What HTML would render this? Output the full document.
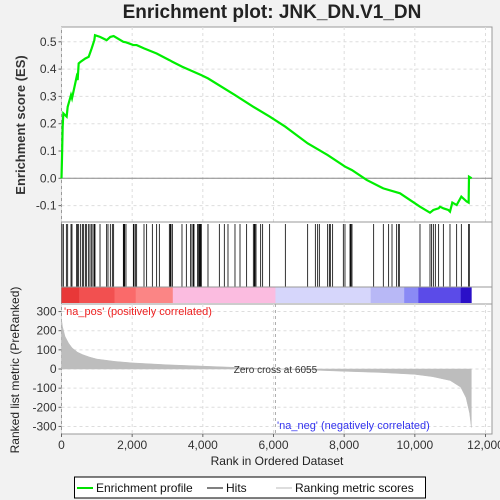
<!DOCTYPE html>
<html><head><meta charset="utf-8"><style>
body{margin:0;background:#f2f2f2;}
svg{display:block;font-family:"Liberation Sans","DejaVu Sans",sans-serif;}
</style></head><body>
<svg id="chart" width="500" height="500">
<rect x="0" y="0" width="500" height="500" fill="#f2f2f2"/>
<text x="272" y="18" text-anchor="middle" font-size="19" font-weight="bold" fill="#222">Enrichment plot: JNK_DN.V1_DN</text>
<g id="es-panel"></g>
<g id="hits-panel"></g>
<g id="metric-panel"></g>
<text transform="translate(25,125) rotate(-90)" text-anchor="middle" font-size="13" font-weight="bold" fill="#333">Enrichment score (ES)</text>
<text transform="translate(19,370) rotate(-90)" text-anchor="middle" font-size="12" fill="#222">Ranked list metric (PreRanked)</text>
<text x="277" y="465" text-anchor="middle" font-size="12" fill="#222">Rank in Ordered Dataset</text>
<g>
<rect x="74.5" y="477" width="351" height="21" fill="#fff" stroke="#000"/>
<line x1="77" y1="488" x2="93" y2="488" stroke="#00e000" stroke-width="2"/>
<text x="96" y="492" font-size="12" fill="#111">Enrichment profile</text>
<line x1="207" y1="488" x2="223" y2="488" stroke="#000" stroke-width="1"/>
<text x="226" y="492" font-size="12" fill="#111">Hits</text>
<line x1="276" y1="488" x2="292" y2="488" stroke="#bbb" stroke-width="1"/>
<text x="295" y="492" font-size="12" fill="#111">Ranking metric scores</text>
</g>
</svg>
<script>
const esRanks=[0,14,33,52,146,175,269,297,429,457,486,542,675,769,854,929,948,1090,1278,1382,1476,1750,1825,2033,2127,2335,2693,3052,3137,3410,3957,4146,4910,5429,5891,6335,6967,7533,8023,8221,8637,9108,9580,10146,10429,10524,10674,10712,10807,10948,10995,11061,11184,11316,11467,11523,11533,11608];
const esValues=[0,0.073,0.189,0.238,0.226,0.262,0.305,0.293,0.372,0.360,0.421,0.427,0.439,0.445,0.476,0.506,0.524,0.518,0.506,0.518,0.521,0.500,0.498,0.488,0.488,0.476,0.457,0.433,0.427,0.409,0.378,0.366,0.305,0.262,0.226,0.189,0.128,0.085,0.043,0.030,-0.006,-0.037,-0.055,-0.104,-0.126,-0.116,-0.110,-0.104,-0.110,-0.116,-0.122,-0.089,-0.098,-0.067,-0.085,-0.089,0.006,0.0];
const hitRanks=[14,52,137,175,269,297,429,457,486,542,590,627,675,712,769,807,854,892,929,948,1090,1278,1316,1382,1439,1476,1750,1769,1788,1825,2033,2052,2090,2127,2335,2410,2571,2693,2769,3052,3080,3099,3137,3410,3533,3655,3693,3731,3750,3853,3882,3901,3920,3938,3957,4146,4467,4608,4712,4910,5052,5240,5429,5458,5476,5505,5637,5693,5891,6335,6967,7184,7250,7297,7533,7580,7608,7674,7976,8023,8165,8184,8212,8221,8835,9108,9259,9354,9486,9542,9561,10146,10429,10476,10524,10580,10674,10807,10995,11184,11316,11523,11542];
const metricRanks=[0,30,100,200,300,450,600,800,1000,1500,2000,3000,4000,5000,6055,7000,8000,9000,10000,10500,11000,11300,11450,11550,11600];
const metricValues=[260,220,170,135,110,88,75,62,52,40,32,22,15,8,0,-5,-12,-18,-28,-40,-60,-95,-150,-230,-305];
const xTicks=[0,2000,4000,6000,8000,10000,12000];
const xTickLabels=["0","2,000","4,000","6,000","8,000","10,000","12,000"];
const esTicks=[-0.1,0.0,0.1,0.2,0.3,0.4,0.5];
const esTickLabels=["-0.1","0.0","0.1","0.2","0.3","0.4","0.5"];
const metricTicks=[-300,-200,-100,0,100,200,300];
const metricTickLabels=["-300","-200","-100","0","100","200","300"];

const NS="http://www.w3.org/2000/svg";
const L=61.5,R=492;
const x=r=>L+r*0.035333;
const yES=v=>178.3-v*273;
const yM=v=>369-v*0.1915;
function mk(p,t,a){const e=document.createElementNS(NS,t);for(const k in a)e.setAttribute(k,a[k]);p.appendChild(e);return e;}

// ES panel
const es=document.getElementById('es-panel');
let r=mk(es,'rect',{x:L,y:27,width:R-L,height:195,fill:'#fff',stroke:'#999'});


xTicks.forEach(t=>{const g=mk(es,'line',{x1:x(t),x2:x(t),y1:27,y2:222,stroke:'#ddd','stroke-dasharray':'3,3'});

});
esTicks.forEach((t,i)=>{const g=mk(es,'line',{x1:L,x2:R,y1:yES(t),y2:yES(t),stroke:'#ddd','stroke-dasharray':'3,3'});


mk(es,'line',{x1:L-3,x2:L,y1:yES(t),y2:yES(t),stroke:'#666'});
const tx=mk(es,'text',{x:L-5,y:yES(t)+4,'text-anchor':'end','font-size':'12',fill:'#333'});tx.textContent=esTickLabels[i];

});
const zl=mk(es,'line',{x1:L,x2:R,y1:yES(0),y2:yES(0),stroke:'#888'});


const pl=mk(es,'polyline',{points:esRanks.map((rk,i)=>x(rk)+','+yES(esValues[i])).join(' '),fill:'none',stroke:'#00ee00','stroke-width':'2.2'});



// hits panel
const hp=document.getElementById('hits-panel');
r=mk(hp,'rect',{x:L,y:222,width:R-L,height:82,fill:'#fff',stroke:'#999'});


hitRanks.forEach(h=>{const l=mk(hp,'line',{x1:x(h),x2:x(h),y1:224,y2:287,stroke:'#000','stroke-width':'0.8'});

});
const segs=[[0,'#e83838'],[500,'#f25050'],[1500,'#fa6a6a'],[2100,'#fb8585'],[3150,'#fbbce0'],[6055,'#d6d6fb'],[8750,'#b8b8f6'],[9700,'#8a8af5'],[10100,'#5b4be8'],[11300,'#2a10c8'],[11600,null]];
for(let i=0;i<segs.length-1;i++){const s=mk(hp,'rect',{x:x(segs[i][0]),y:287,width:x(segs[i+1][0])-x(segs[i][0])+0.3,height:16,fill:segs[i][1]});

}
mk(hp,'line',{x1:L,x2:R,y1:287,y2:287,stroke:'#999'});

// metric panel
const mp=document.getElementById('metric-panel');
r=mk(mp,'rect',{x:L,y:304,width:R-L,height:130,fill:'#fff',stroke:'#999'});


xTicks.forEach((t,i)=>{const g=mk(mp,'line',{x1:x(t),x2:x(t),y1:304,y2:434,stroke:'#ddd','stroke-dasharray':'3,3'});


mk(mp,'line',{x1:x(t),x2:x(t),y1:434,y2:437,stroke:'#666'});
const tx=mk(mp,'text',{x:x(t),y:449,'text-anchor':'middle','font-size':'12',fill:'#333'});tx.textContent=xTickLabels[i];

});
metricTicks.forEach((t,i)=>{const g=mk(mp,'line',{x1:L,x2:R,y1:yM(t),y2:yM(t),stroke:'#ddd','stroke-dasharray':'3,3'});


mk(mp,'line',{x1:L-3,x2:L,y1:yM(t),y2:yM(t),stroke:'#666'});
const tx=mk(mp,'text',{x:L-5,y:yM(t)+4,'text-anchor':'end','font-size':'12',fill:'#333'});tx.textContent=metricTickLabels[i];

});
let pts=x(0)+','+yM(0)+' '+metricRanks.map((rk,i)=>x(rk)+','+yM(metricValues[i])).join(' ')+' '+x(metricRanks[metricRanks.length-1])+','+yM(0);
const area=mk(mp,'polygon',{points:pts,fill:'#bdbdbd',stroke:'#bdbdbd','stroke-width':'0.5'});


const zc=mk(mp,'line',{x1:x(6055),x2:x(6055),y1:304,y2:434,stroke:'#aaa','stroke-dasharray':'3,3'});


let t=mk(mp,'text',{x:x(6055),y:373,'text-anchor':'middle','font-size':'10',fill:'#333'});t.textContent='Zero cross at 6055';


t=mk(mp,'text',{x:64,y:315,'font-size':'11',fill:'#ee2222'});t.textContent="'na_pos' (positively correlated)";


t=mk(mp,'text',{x:277,y:429,'font-size':'11',fill:'#3333ee'});t.textContent="'na_neg' (negatively correlated)";


</script>
</body></html>
